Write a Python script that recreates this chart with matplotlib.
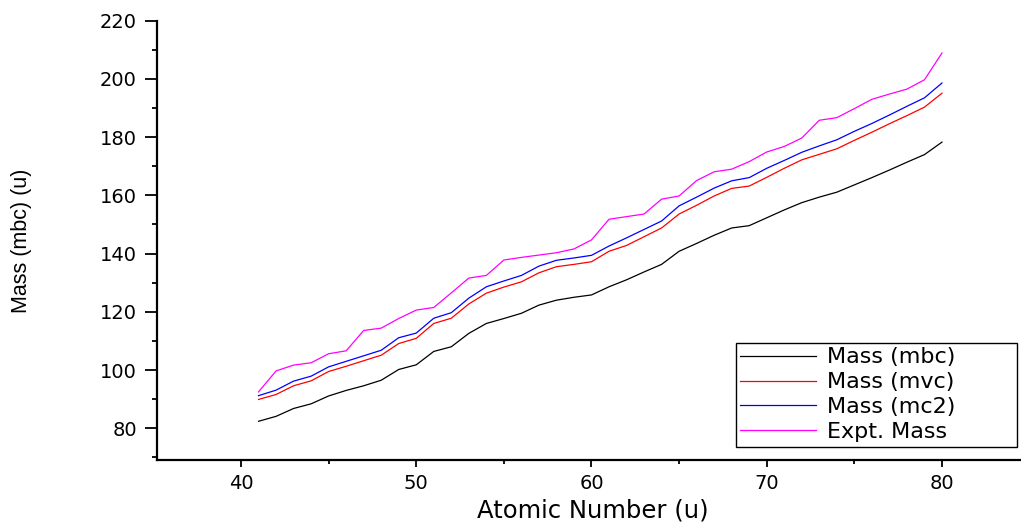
import numpy as np
import matplotlib
matplotlib.use('Agg')
import matplotlib.pyplot as plt
from matplotlib.ticker import MultipleLocator

# atomic number Z = 41 .. 80
atomic_number = list(range(41, 81))

mass_mbc = [82.4, 84.1, 86.8, 88.4, 91.1, 93.0, 94.6, 96.5, 100.2, 101.8,
            106.4, 108.0, 112.6, 116.0, 117.7, 119.5, 122.3, 124.0, 125.0, 125.8,
            128.6, 131.0, 133.7, 136.3, 140.8, 143.5, 146.3, 148.8, 149.6, 152.3,
            155.0, 157.5, 159.4, 161.1, 163.6, 166.1, 168.7, 171.4, 174.0, 178.3]

mass_mvc = [89.9, 91.6, 94.6, 96.3, 99.5, 101.3, 103.2, 105.1, 109.1, 110.9,
            116.0, 117.8, 122.7, 126.4, 128.5, 130.3, 133.4, 135.5, 136.3, 137.2,
            140.8, 142.8, 145.8, 148.8, 153.6, 156.6, 159.8, 162.4, 163.2, 166.2,
            169.3, 172.2, 174.1, 176.0, 178.9, 181.7, 184.6, 187.4, 190.3, 195.1]

mass_mc2 = [91.2, 93.1, 96.2, 97.9, 101.1, 103.0, 104.9, 106.8, 111.1, 112.7,
            117.8, 119.7, 124.7, 128.6, 130.6, 132.5, 135.7, 137.7, 138.5, 139.4,
            142.6, 145.4, 148.3, 151.2, 156.4, 159.4, 162.5, 165.0, 166.1, 169.3,
            172.0, 174.8, 177.0, 179.1, 182.0, 184.7, 187.6, 190.6, 193.5, 198.6]

mass_expt = [92.5, 99.7, 101.7, 102.5, 105.6, 106.6, 113.6, 114.4, 117.7, 120.6,
             121.5, 126.5, 131.6, 132.5, 137.8, 138.7, 139.5, 140.3, 141.6, 144.7,
             151.8, 152.7, 153.6, 158.7, 159.8, 165.1, 168.1, 169.0, 171.6, 174.9,
             176.8, 179.7, 185.8, 186.7, 189.8, 193.0, 194.8, 196.5, 199.7, 208.9]

series = [(mass_mbc, 'Mass (mbc)', 'black'),
          (mass_mvc, 'Mass (mvc)', 'red'),
          (mass_mc2, 'Mass (mc2)', 'blue'),
          (mass_expt, 'Expt. Mass', 'magenta')]

W, H = 1021, 523
fig = plt.figure(figsize=(W / 100, H / 100), dpi=100)
ax = fig.add_axes([156.9 / W, 1 - 460.3 / H, 872.7 / W, 439.6 / H])

for vals, lab, col in series:
    ax.plot(atomic_number, vals, color=col, lw=0.9, label=lab)

ax.set_xlim(35.2, 85)
ax.set_ylim(69, 220)
ax.xaxis.set_major_locator(MultipleLocator(10))
ax.xaxis.set_minor_locator(MultipleLocator(5))
ax.yaxis.set_major_locator(MultipleLocator(20))
ax.yaxis.set_minor_locator(MultipleLocator(10))

for s in ['top', 'right']:
    ax.spines[s].set_visible(False)
for s in ['left', 'bottom']:
    ax.spines[s].set_linewidth(1.6)

ax.tick_params(axis='y', which='major', direction='out', length=8.5, width=1.3, pad=6)
ax.tick_params(axis='y', which='minor', direction='out', length=3.6, width=1.3)
ax.tick_params(axis='x', which='major', direction='out', length=5, width=1.3, pad=5)
ax.tick_params(axis='x', which='minor', direction='out', length=3, width=1.3)
for lbl in ax.get_xticklabels() + ax.get_yticklabels():
    lbl.set_family('DejaVu Sans')
    lbl.set_fontsize(14)

ax.set_xlabel('Atomic Number (u)', fontsize=17.5, family='DejaVu Sans')
ax.xaxis.set_label_coords(0.5, -0.088)
ax.set_ylabel('Mass (mbc) (u)', fontsize=15.5, family='Liberation Sans')
ax.yaxis.set_label_coords(-0.143, 0.5)

leg = ax.legend(loc='upper left',
                bbox_to_anchor=(736 / W, 1 - 343 / H, 281 / W, 0.0),
                bbox_transform=fig.transFigure, mode='expand', borderaxespad=0,
                fancybox=False, framealpha=1, edgecolor='black',
                prop={'family': 'DejaVu Sans', 'size': 16},
                handlelength=3.4, handletextpad=0.5, labelspacing=0.22,
                borderpad=0.2)
leg.get_frame().set_linewidth(1.0)

fig.savefig('out.png', dpi=100)
